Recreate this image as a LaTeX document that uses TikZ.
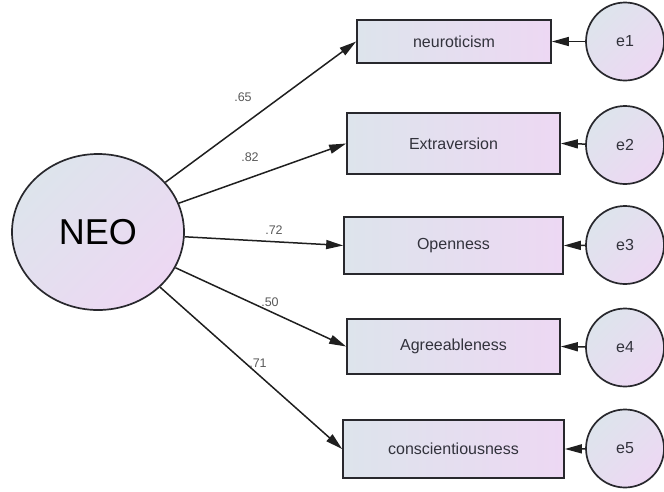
\documentclass[tikz,border=0pt]{standalone}
\usepackage{fontspec}
\setmainfont{Liberation Sans}
\usetikzlibrary{shapes.geometric,arrows.meta}
\definecolor{lc}{RGB}{221,228,236}
\definecolor{rc}{RGB}{237,216,243}
\definecolor{bord}{RGB}{40,40,45}
\definecolor{txt}{RGB}{50,50,60}
\tikzset{
  obs/.style={draw=bord,line width=1.7pt,left color=lc,right color=rc,inner sep=0pt,
    font=\fontsize{16}{18}\selectfont,text=txt},
  err/.style={circle,draw=bord,line width=1.7pt,left color=lc,right color=rc,shading angle=45,
    minimum size=78pt,inner sep=0pt,font=\fontsize{16}{18}\selectfont,text=txt},
  lat/.style={ellipse,draw=bord,line width=1.7pt,left color=lc,right color=rc,shading angle=45,
    minimum width=172pt,minimum height=156pt,inner sep=0pt,font=\fontsize{36}{38}\selectfont},
  arr/.style={draw=black!88,line width=1.5pt,-{Triangle[length=17pt,width=9pt]}},
  lbl/.style={font=\fontsize{12.5}{14}\selectfont,text=black!65,inner sep=0pt}
}
\begin{document}
\begin{tikzpicture}[x=1pt,y=-1pt]
\useasboundingbox (0,0) rectangle (664,491);
\node[lat] (neo) at (98,232) {NEO};
\node[obs,minimum width=194pt,minimum height=43pt] (n1) at (454,41.5) {neuroticism};
\node[obs,minimum width=213pt,minimum height=61pt] (n2) at (453.5,143.5) {Extraversion};
\node[obs,minimum width=219pt,minimum height=57pt] (n3) at (453.5,245.5) {Openness};
\node[obs,minimum width=213pt,minimum height=55pt] (n4) at (453.5,346.5) {Agreeableness};
\node[obs,minimum width=221pt,minimum height=58pt] (n5) at (453.5,449) {conscientiousness};
\node[err] (e1) at (625,41.5) {e1};
\node[err] (e2) at (625,145) {e2};
\node[err] (e3) at (625,245) {e3};
\node[err] (e4) at (625,347.5) {e4};
\node[err] (e5) at (625,448.5) {e5};
\foreach \i in {1,...,5}{
  \draw[arr] (neo) -- (n\i.west);
  \draw[arr] (e\i) -- (n\i.east);
}
\node[lbl] (l1) at (243,97) {.65};
\node[lbl] (l2) at (250,157) {.82};
\node[lbl] (l3) at (274,230) {.72};
\node[lbl] (l4) at (270,302) {.50};
\node[lbl] (l5) at (258,363) {.71};
\end{tikzpicture}
\end{document}
